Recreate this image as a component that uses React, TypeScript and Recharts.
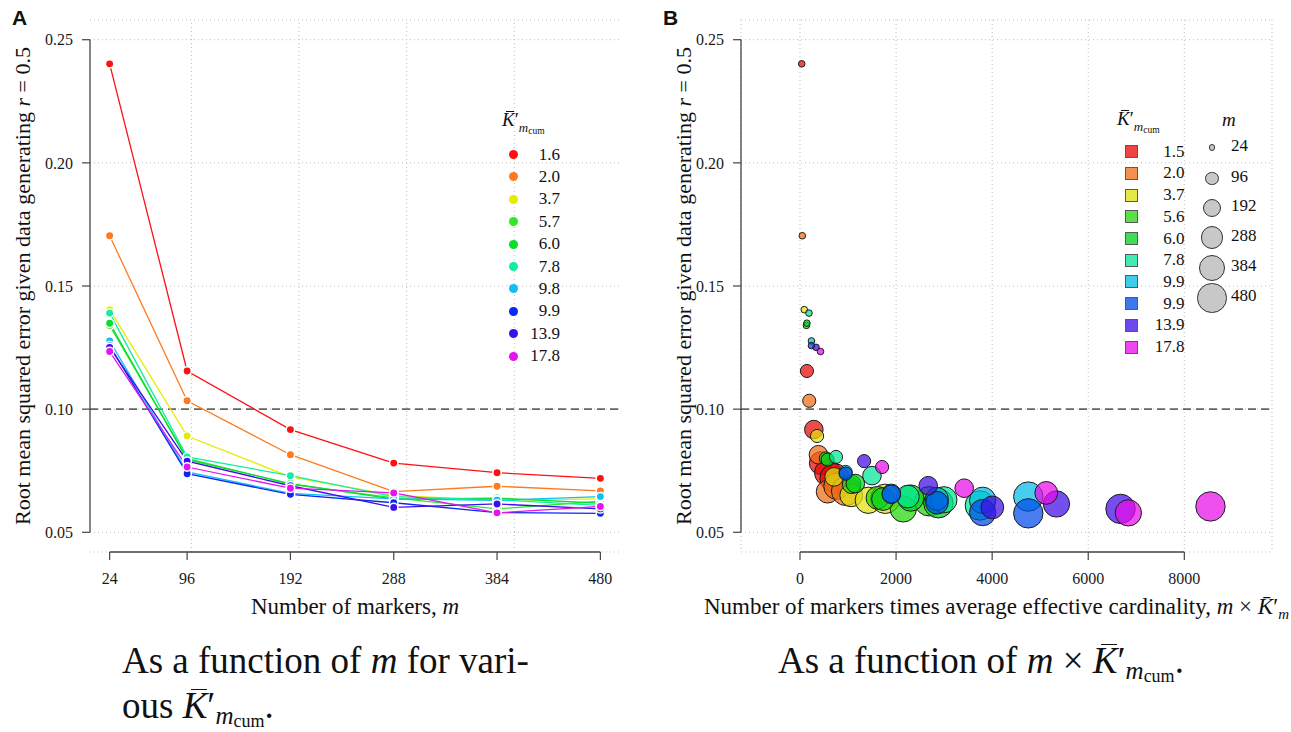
import { CartesianGrid, Line, LineChart, ReferenceLine, Scatter, ScatterChart, XAxis, YAxis, ZAxis } from 'recharts'

const FONT = "'Liberation Serif', 'Times New Roman', serif"

// number of markers m
const markers = [24, 96, 192, 288, 384, 480]
const gridXA = [100, 200, 300, 400]
const ticksY = [0.05, 0.1, 0.15, 0.2, 0.25]
const ticksB = [0, 2000, 4000, 6000, 8000]

// panel A: K'bar_mcum legend values and colours
const kA = ['1.6', '2.0', '3.7', '5.7', '6.0', '7.8', '9.8', '9.9', '13.9', '17.8']
const colorsA = ['#ff1010', '#ff7a1c', '#e4ec00', '#2ee82a', '#0cdc2c', '#12eea0', '#12bff4', '#0a28f0', '#3a10ec', '#e414f0']

// RMSE for each series at m = 24, 96, 192, 288, 384, 480
const rmse16 = [0.2402, 0.1155, 0.0917, 0.0781, 0.0742, 0.0719]
const rmse20 = [0.1704, 0.1034, 0.0815, 0.0665, 0.0687, 0.0668]
const rmse37 = [0.1404, 0.0891, 0.0725, 0.065, 0.063, 0.0636]
const rmse57 = [0.134, 0.08, 0.0695, 0.064, 0.0595, 0.0626]
const rmse60 = [0.1349, 0.0795, 0.0698, 0.0635, 0.0639, 0.0618]
const rmse78 = [0.139, 0.0806, 0.073, 0.0645, 0.0632, 0.0609]
const rmse98 = [0.1277, 0.0745, 0.0658, 0.0636, 0.063, 0.0645]
const rmse99 = [0.1258, 0.0738, 0.0654, 0.062, 0.058, 0.0577]
const rmse139 = [0.1251, 0.0789, 0.0689, 0.0601, 0.0615, 0.0595]
const rmse178 = [0.1234, 0.0765, 0.0679, 0.066, 0.0579, 0.0605]
const rmseSeries = [rmse16, rmse20, rmse37, rmse57, rmse60, rmse78, rmse98, rmse99, rmse139, rmse178]

// panel B: legend values, colours, and m x K'bar per point
const kB = ['1.5', '2.0', '3.7', '5.6', '6.0', '7.8', '9.9', '9.9', '13.9', '17.8']
const colorsB = ['#e80505', '#f06b15', '#e0e00e', '#26d50b', '#00d21c', '#00e896', '#00bbe8', '#004be8', '#400be8', '#e80be8']
const mk15 = [36, 144, 288, 432, 576, 720]
const mk20 = [48, 192, 384, 576, 768, 960]
const mk37 = [89, 355, 710, 1066, 1421, 1776]
const mk56 = [134, 538, 1075, 1613, 2150, 2688]
const mk60 = [144, 576, 1152, 1728, 2304, 2880]
const mk78 = [187, 749, 1498, 2246, 2995, 3744]
const mk99a = [238, 950, 1901, 2851, 3802, 4752]
const mk99b = [238, 950, 1901, 2851, 3802, 4752]
const mk139 = [334, 1334, 2669, 4003, 5338, 6672]
const mk178 = [427, 1709, 3418, 5126, 6835, 8544]
const mkSeries = [mk15, mk20, mk37, mk56, mk60, mk78, mk99a, mk99b, mk139, mk178]

const rowsA = markers.map((m, i) => {
  const row: Record<string, number> = { m }
  rmseSeries.forEach((s, j) => (row[`s${j}`] = s[i]))
  return row
})

const pointsB = mkSeries.map((xs, j) => markers.map((m, i) => ({ x: xs[i], y: rmseSeries[j][i], m })))

const Z_MAX_AREA = 679

const tickStyle = { fill: '#1a1a1a', fontSize: 16, fontFamily: FONT }
const tickLine = { stroke: '#444', strokeWidth: 1.2 }

function YTitle(props: any) {
  const vb = props.viewBox || { x: 0, y: 20, width: 90, height: 532 }
  const x = vb.x + (props.dx ?? 22)
  const y = vb.y + vb.height / 2
  return (
    <text transform={`translate(${x},${y}) rotate(-90)`} textAnchor="middle" dominantBaseline="central" fontFamily={FONT} fontSize={22} fill="#111">
      Root mean squared error given data generating <tspan fontStyle="italic">r</tspan> = 0.5
    </text>
  )
}

function XTitleA(props: any) {
  const vb = props.viewBox || { x: 90, y: 552, width: 530, height: 78 }
  return (
    <text x={vb.x + vb.width / 2} y={vb.y + 62} textAnchor="middle" fontFamily={FONT} fontSize={23} fill="#111">
      Number of markers, <tspan fontStyle="italic">m</tspan>
    </text>
  )
}

function XTitleB(props: any) {
  const vb = props.viewBox || { x: 91, y: 552, width: 531, height: 78 }
  return (
    <text x={vb.x + vb.width / 2 - 10} y={vb.y + 62} textAnchor="middle" fontFamily={FONT} fontSize={23} fill="#111">
      Number of markers times average effective cardinality,{'  '}
      <tspan fontStyle="italic">m</tspan> × <tspan fontStyle="italic">{'K\u0304'}</tspan>′<tspan fontStyle="italic" fontSize={15} dy={5}>m</tspan>
    </text>
  )
}

function Kbar({ size }: { size: number }) {
  return (
    <span style={{ position: 'relative', fontStyle: 'italic' }}>
      K
      <span style={{ position: 'absolute', left: '0.22em', right: '0.02em', top: '0.1em', borderTop: `${Math.max(1, size * 0.05)}px solid currentColor` }} />
    </span>
  )
}

function KTitle({ left, top, size }: { left: number; top: number; size: number }) {
  return (
    <div style={{ position: 'absolute', left, top, fontSize: size, lineHeight: 1, whiteSpace: 'nowrap' }}>
      <Kbar size={size} />′
      <span style={{ fontStyle: 'italic', fontSize: size * 0.68, position: 'relative', top: size * 0.3 }}>m</span>
      <span style={{ fontSize: size * 0.5, position: 'relative', top: size * 0.42 }}>cum</span>
    </div>
  )
}

function bubble(color: string) {
  return (p: any) => {
    const r = p.width ? p.width / 2 : Math.sqrt((p.size ?? 64) / Math.PI)
    return <circle cx={p.cx} cy={p.cy} r={r} fill={color} fillOpacity={0.72} stroke="#1c1c1c" strokeWidth={1} />
  }
}

export default function App() {
  return (
    <div style={{ position: 'absolute', left: 0, top: 0, width: 1291, height: 732, background: '#fff', fontFamily: FONT, color: '#111', overflow: 'hidden' }}>
      <div style={{ position: 'absolute', left: 12, top: 6, fontFamily: "'Liberation Sans', Arial, sans-serif", fontWeight: 'bold', fontSize: 21 }}>A</div>
      <div style={{ position: 'absolute', left: 663, top: 6, fontFamily: "'Liberation Sans', Arial, sans-serif", fontWeight: 'bold', fontSize: 21 }}>B</div>

      <div style={{ position: 'absolute', left: 0, top: 0 }}>
        <LineChart width={640} height={630} data={rowsA} margin={{ top: 20, right: 20, bottom: 0, left: 0 }}>
          <CartesianGrid vertical={false} stroke="#bdbdbd" strokeDasharray="1 3" />
          {gridXA.map(v => (
            <ReferenceLine key={v} x={v} stroke="#bdbdbd" strokeDasharray="1 3" />
          ))}
          <XAxis
            type="number"
            dataKey="m"
            domain={[5.76, 498.24]}
            ticks={markers}
            allowDataOverflow
            axisLine={false}
            tickSize={8}
            tickMargin={13}
            tickLine={tickLine}
            tick={tickStyle}
            height={78}
            label={<XTitleA />}
          />
          <YAxis
            type="number"
            domain={[0.042, 0.258]}
            ticks={ticksY}
            allowDataOverflow
            width={90}
            axisLine={false}
            tickSize={8}
            tickMargin={9}
            tickLine={tickLine}
            tick={tickStyle}
            tickFormatter={(v: number) => v.toFixed(2)}
            label={<YTitle dx={22} />}
          />
          <ReferenceLine y={0.1} stroke="#666" strokeDasharray="8 5" strokeWidth={1.8} />
          <ReferenceLine segment={[{ x: 24, y: 0.042 }, { x: 480, y: 0.042 }]} stroke="#444" strokeWidth={1.3} ifOverflow="visible" />
          <ReferenceLine segment={[{ x: 5.76, y: 0.05 }, { x: 5.76, y: 0.25 }]} stroke="#444" strokeWidth={1.3} ifOverflow="visible" />
          {colorsA.map((c, j) => (
            <Line
              key={j}
              type="linear"
              dataKey={`s${j}`}
              stroke={c}
              strokeWidth={1.3}
              dot={{ r: 4.2, fill: c, stroke: '#fff', strokeWidth: 1.5 }}
              activeDot={false}
              isAnimationActive={false}
            />
          ))}
        </LineChart>
      </div>

      <div style={{ position: 'absolute', left: 650, top: 0 }}>
        <ScatterChart width={641} height={630} margin={{ top: 20, right: 19, bottom: 0, left: 0 }}>
          <CartesianGrid stroke="#bdbdbd" strokeDasharray="1 3" />
          <XAxis
            type="number"
            dataKey="x"
            domain={[-1228, 9825]}
            ticks={ticksB}
            allowDataOverflow
            axisLine={false}
            tickSize={8}
            tickMargin={13}
            tickLine={tickLine}
            tick={tickStyle}
            height={78}
            label={<XTitleB />}
          />
          <YAxis
            type="number"
            dataKey="y"
            domain={[0.042, 0.258]}
            ticks={ticksY}
            allowDataOverflow
            width={91}
            axisLine={false}
            tickSize={8}
            tickMargin={9}
            tickLine={tickLine}
            tick={tickStyle}
            tickFormatter={(v: number) => v.toFixed(2)}
            label={<YTitle dx={33} />}
          />
          <ZAxis type="number" dataKey="m" domain={[0, 480]} range={[0, Z_MAX_AREA]} />
          <ReferenceLine y={0.1} stroke="#666" strokeDasharray="8 5" strokeWidth={1.8} />
          <ReferenceLine segment={[{ x: 0, y: 0.042 }, { x: 8000, y: 0.042 }]} stroke="#444" strokeWidth={1.3} ifOverflow="visible" />
          <ReferenceLine segment={[{ x: -1228, y: 0.05 }, { x: -1228, y: 0.25 }]} stroke="#444" strokeWidth={1.3} ifOverflow="visible" />
          {pointsB.map((pts, j) => (
            <Scatter key={j} data={pts} fill={colorsB[j]} shape={bubble(colorsB[j])} isAnimationActive={false} />
          ))}
        </ScatterChart>
      </div>

      {/* legend A */}
      <KTitle left={502} top={110} size={19} />
      {kA.map((k, i) => (
        <div key={i} style={{ position: 'absolute', left: 509, top: 154.5 + 22.4 * i - 11, width: 51, height: 22, display: 'flex', alignItems: 'center' }}>
          <span style={{ width: 9, height: 9, borderRadius: '50%', background: colorsA[i], display: 'inline-block' }} />
          <span style={{ marginLeft: 'auto', fontSize: 17 }}>{k}</span>
        </div>
      ))}

      {/* legend B, colours */}
      <KTitle left={1117} top={109} size={19} />
      {kB.map((k, i) => (
        <div key={i} style={{ position: 'absolute', left: 1124.5, top: 151.7 + 21.7 * i - 11, width: 60, height: 22, display: 'flex', alignItems: 'center' }}>
          <span style={{ width: 11, height: 11, background: colorsB[i], opacity: 0.75, border: '1px solid #222', display: 'inline-block', boxSizing: 'content-box' }} />
          <span style={{ marginLeft: 'auto', fontSize: 17 }}>{k}</span>
        </div>
      ))}

      {/* legend B, sizes */}
      <div style={{ position: 'absolute', left: 1222, top: 109, fontSize: 19, fontStyle: 'italic' }}>m</div>
      {markers.map((m, i) => {
        const r = Math.sqrt(((m / 480) * Z_MAX_AREA) / Math.PI)
        const cy = [147.7, 178.7, 208, 237.7, 267.7, 298][i]
        return (
          <div key={m}>
            <span style={{ position: 'absolute', left: 1212 - r, top: cy - r, width: 2 * r - 2, height: 2 * r - 2, borderRadius: '50%', background: '#c8c8c8', border: '1px solid #333' }} />
            <span style={{ position: 'absolute', left: 1231, top: cy - 13, fontSize: 17, lineHeight: '22px' }}>{m}</span>
          </div>
        )
      })}

      {/* captions */}
      <div style={{ position: 'absolute', left: 122, top: 638, fontSize: 37, lineHeight: '45px', whiteSpace: 'nowrap' }}>
        As a function of <i>m</i> for vari-
        <br />
        ous <Kbar size={37} />′
        <span style={{ fontStyle: 'italic', fontSize: 25, position: 'relative', top: 6 }}>m</span>
        <span style={{ fontSize: 18, position: 'relative', top: 9 }}>cum</span>.
      </div>
      <div style={{ position: 'absolute', left: 778, top: 638, fontSize: 37, lineHeight: '45px', whiteSpace: 'nowrap' }}>
        As a function of <i>m</i> × <Kbar size={37} />′
        <span style={{ fontStyle: 'italic', fontSize: 25, position: 'relative', top: 6 }}>m</span>
        <span style={{ fontSize: 18, position: 'relative', top: 9 }}>cum</span>.
      </div>
    </div>
  )
}
